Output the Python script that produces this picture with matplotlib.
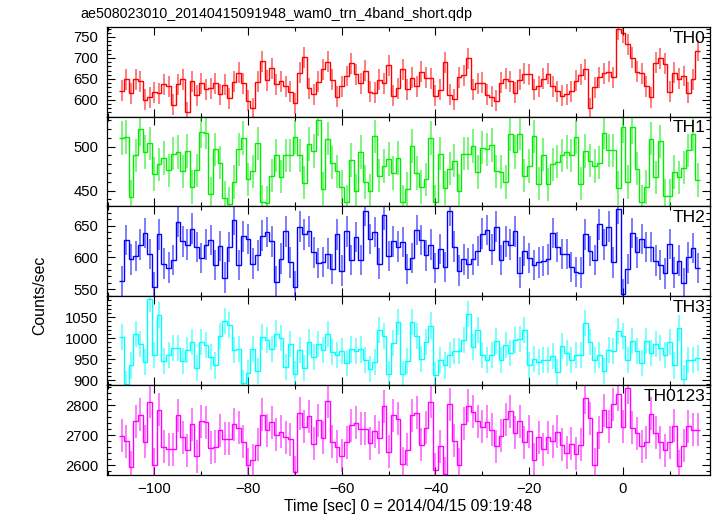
import numpy as np
import matplotlib
matplotlib.use("Agg")
import matplotlib.pyplot as plt
from matplotlib.ticker import MultipleLocator

TITLE = "ae508023010_20140415091948_wam0_trn_4band_short.qdp"
X_LABEL = "Time [sec] 0 = 2014/04/15 09:19:48"
Y_LABEL = "Counts/sec"

# light curve bins (1 s), left edge of the first bin
bin_start = -107.5
bin_width = 1.0

th0 = [622, 649, 616, 649, 644, 600, 606, 618, 616, 637, 633, 588, 637, 649, 570, 644, 611, 640, 625, 628,
       640, 613, 636, 604, 643, 665, 640, 598, 580, 643, 692, 647, 675, 637, 644,
       632, 620, 592, 665, 702, 628, 614, 643, 673, 691, 648, 608, 632, 657, 687, 661, 640, 670, 620, 617,
       648, 640, 683, 610, 628, 673, 625, 653, 633, 667, 653, 652, 610, 624, 690, 612, 602, 654, 659, 699,
       625, 640, 641,
       612, 608, 598, 641, 651, 645, 617, 648, 662, 661, 625, 633, 651, 662, 633, 621, 610, 614, 621, 646,
       660, 673, 580, 630, 654, 664, 667, 654, 768, 760, 733, 701, 667, 664, 633, 606, 689, 699, 686, 620,
       665, 650, 657, 617, 649, 717]
th1 = [510, 511, 443, 490, 520, 494, 504, 469, 480, 487, 473, 492, 494, 472, 495, 454, 473, 517, 516, 446,
       497, 482, 442, 435, 460, 497, 510, 463, 472, 504, 437, 436, 467, 490, 466, 490, 490, 511, 490, 459,
       503, 495, 531, 452, 509, 482, 472, 454, 437, 485, 450, 494, 460, 450, 512, 467, 478, 486,
       470, 487, 437, 452, 501, 470, 454, 463, 510, 437, 492, 453, 475, 484, 450, 492, 492, 501, 471, 499,
       497, 502, 472, 471, 460, 514, 494, 515, 467, 478, 512, 458, 491, 457, 480, 483, 490, 494, 490, 511,
       458, 495, 484, 478, 482, 516, 496, 496, 453, 523, 460, 522, 475, 437, 454, 509, 465, 506, 444, 444,
       471, 465, 476, 496, 514, 462]
th2 = [563, 627, 597, 602, 620, 638, 605, 553, 636, 590, 584, 596, 656, 625, 620, 645, 616, 599, 620, 627,
       588, 618, 568, 616, 659, 588, 633, 629, 590, 603, 634, 640, 625, 562, 598, 641, 592, 554, 648, 636,
       641, 608, 591, 593, 606, 582, 636, 579, 641, 596, 632, 596, 673, 629, 640, 590, 667, 602,
       625, 617, 624, 582, 599, 643, 627, 603, 620, 583, 613, 585, 673, 617, 579, 597, 590, 597, 610, 637,
       643, 612, 648, 596, 625, 620, 641, 576, 610, 599, 588, 592, 594, 597, 638, 616, 605, 605, 585, 577,
       576, 636, 610, 596, 652, 620, 648, 592, 676, 542, 582, 638, 608, 629, 616, 616, 595, 588, 575, 621,
       576, 595, 559, 600, 615, 583]
th3 = [1002, 892, 935, 1009, 985, 943, 1093, 961, 1054, 945, 961, 977, 977, 945, 971, 990, 930, 990, 983, 956,
       935, 1005, 1040, 1032, 971, 975, 894, 916, 975, 922, 1003, 995, 975, 1011, 1001, 932, 985, 914, 971, 930,
       991, 955, 987, 971, 1009, 967, 959, 969, 940, 973, 969, 973, 949, 926, 943, 1020, 1006, 914,
       989, 1039, 914, 945, 1039, 1005, 951, 991, 1030, 912, 948, 935, 959, 969, 969, 995, 1058, 980, 1019, 959,
       949, 961, 993, 948, 983, 964, 995, 998, 1020, 935, 951, 943, 949, 948, 957, 919, 981, 964, 949, 961,
       961, 1035, 990, 949, 961, 922, 972, 969, 1017, 1005, 949, 994, 969, 940, 994, 964, 987, 976, 961, 991,
       935, 1024, 904, 949, 949, 952]
th0123 = [2699, 2680, 2594, 2747, 2769, 2678, 2811, 2601, 2785, 2661, 2654, 2654, 2766, 2694, 2650, 2736, 2630,
          2747, 2744, 2658, 2661, 2717, 2688, 2688, 2736, 2725, 2679, 2602, 2616, 2668, 2768, 2717, 2744, 2702,
          2711, 2694, 2686, 2577, 2774, 2728, 2764, 2672, 2750, 2691, 2814, 2679, 2661, 2632, 2677, 2734, 2741,
          2722, 2721, 2674, 2713, 2691, 2797, 2645,
          2766, 2755, 2605, 2652, 2766, 2775, 2669, 2725, 2812, 2585, 2663, 2572, 2803, 2682, 2602, 2739, 2799,
          2778, 2747, 2728, 2745, 2719, 2663, 2699, 2753, 2780, 2708, 2747, 2677, 2713, 2619, 2693, 2654, 2694,
          2680, 2711, 2669, 2641, 2671, 2639, 2669, 2825, 2756, 2602, 2710, 2784, 2728, 2803, 2836, 2728, 2859,
          2725, 2706, 2663, 2677, 2772, 2708, 2677, 2650, 2677, 2732, 2596, 2665, 2730, 2719, 2719]

band_names = ["TH0", "TH1", "TH2", "TH3", "TH0123"]
band_errors = [25, 19, 24, 31, 55]
band_ticks = [[600, 650, 700, 750], [450, 500], [550, 600, 650], [900, 950, 1000, 1050], [2600, 2700, 2800]]


def setup_axis(ax, ylim, ticks, minor):
    """
    qdp-like frame: inward ticks on all four sides
    """
    ax.set_xlim(-110.2, 18.6)
    ax.set_ylim(*ylim)
    ax.xaxis.set_major_locator(MultipleLocator(20))
    ax.xaxis.set_minor_locator(MultipleLocator(10))
    ax.set_yticks(ticks)
    ax.yaxis.set_minor_locator(MultipleLocator(minor))
    ax.tick_params(which='both', direction='in', top=True, right=True, width=0.8, labelsize=10.7)
    ax.tick_params(which='major', length=6)
    ax.tick_params(which='minor', length=3)
    ax.tick_params(axis='y', pad=6)
    ax.tick_params(axis='x', pad=5)
    for sp in ax.spines.values():
        sp.set_linewidth(0.9)


def draw_band(ax, values, err, color, name):
    values = np.array(values, dtype=float)
    edges = bin_start + np.arange(len(values) + 1) * bin_width
    centers = 0.5 * (edges[:-1] + edges[1:])
    ax.errorbar(centers, values, yerr=err, fmt='none', ecolor=color, elinewidth=1.3, alpha=0.55)
    ax.stairs(values, edges, baseline=None, color=color, linewidth=1.0)
    ax.text(0.993, 0.96, name, transform=ax.transAxes, ha='right', va='top', fontsize=12.5)


def main():
    plt.rcParams['font.family'] = ['Liberation Sans', 'DejaVu Sans']
    fig, axes = plt.subplots(5, 1, sharex=True, figsize=(7.17, 5.16), dpi=100)
    fig.subplots_adjust(left=0.1488, right=0.9902, top=0.947, bottom=0.0795, hspace=0)

    bands = [th0, th1, th2, th3, th0123]
    colors = ['#ff0000', '#00ee00', '#0000ff', '#00ffff', '#ff00ff']
    ylims = [(559.5, 773), (432, 534), (539.4, 680), (887.5, 1100.4), (2567.5, 2866)]
    minors = [10, 10, 10, 10, 20]

    for ax, vals, err, col, name, yl, tk, mi in zip(axes, bands, band_errors, colors, band_names,
                                                    ylims, band_ticks, minors):
        draw_band(ax, vals, err, col, name)
        setup_axis(ax, yl, tk, mi)

    fig.text(80 / 717, 1 - 18 / 516, TITLE, fontsize=10.3, va='baseline', ha='left')
    fig.text(40 / 717, 1 - 295 / 516, Y_LABEL, fontsize=11.4, rotation=90, va='center', ha='center')
    fig.text(0.5695, 1 - 507 / 516, X_LABEL, fontsize=11.3, va='center', ha='center')

    fig.savefig('out.png', dpi=100)


if __name__ == '__main__':
    main()
